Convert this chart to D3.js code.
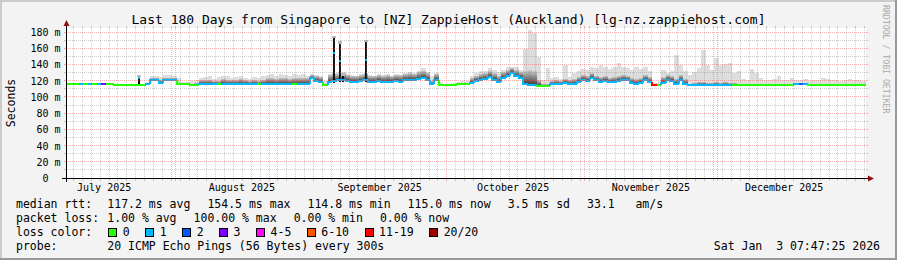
<!DOCTYPE html>
<html>
<head>
<meta charset="utf-8">
<script src="https://cdn.jsdelivr.net/npm/d3@7"></script>
<style>
  body { margin: 0; background: #f3f3f3; }
  svg { display: block; font-family: "DejaVu Sans Mono", monospace; }
  text { white-space: pre; }
</style>
</head>
<body>
<svg id="chart" width="897" height="260"></svg>
<script>
// graph window: the last 180 days up to the time stamp in the corner
const endTime = new Date(Date.UTC(2026, 0, 3, 7, 47, 25));
const startTime = new Date(endTime.getTime() - 180 * 864e5);

// one value per day, oldest first (ms)
const medianRtt = [
  116.6,116.6,116.6,116.6,116.6,116.6,116.6,116.6,116.6,116.6,
  116.6,115.3,115.3,115.3,115.3,115.3,115.3,115.3,116.6,121,
  121.5,118,122,122,121.5,116.6,116.6,116.3,115.2,115.5,
  116.8,116.8,116.8,116.8,116.5,116.8,116.8,116.8,116.8,116.8,
  116.8,116.8,116.8,116.5,116.8,116.8,116.8,116.8,116.8,116.8,
  116.8,116.5,116.8,116.8,116.8,123.5,120,119,115,119.5,
  120.5,121,122,120,119,118.5,120,121,119,118.5,
  120,119,119.5,118.5,120,119.5,121,122,121.5,123,
  124,122,116,122,115.5,115.3,115.3,115.5,116,116.2,
  116.2,118,120,121.5,123,125.6,122,119.4,124,127,
  129.7,127,124,116,115.3,115.5,114.5,114,114.5,116.5,
  117,116,117.5,116.5,117,119,122,120,124.5,121,
  119,120,118.5,119.5,120,121.5,121,117.5,117,118,
  121.5,119,115.5,115.3,118,121.5,120,116.5,121.5,117,
  115.3,115.3,115.3,115.3,115.3,115.3,115.3,115.3,115.3,115.3,
  115.3,115.3,115.3,115.3,115.3,115.3,115.3,115.3,115.3,115.3,
  115.3,115.3,115.3,115.3,116,116.2,116,115.3,115.3,115.3,
  115.3,115.3,115.3,115.3,115.3,115.3,115.3,115.3,115.3,115.0
];

// lost pings out of 20, per day
const lossCount = [
  0,0,0,1,0,1,0,1,3,0,
  0,0,0,0,0,0,0,0,1,1,
  1,1,1,1,1,0,0,0,0,0,
  1,1,1,1,0,1,1,1,1,1,
  1,1,1,0,1,1,1,1,1,1,
  1,0,1,1,1,1,1,1,0,1,
  1,1,1,1,1,1,1,1,1,1,
  1,1,1,1,1,1,1,1,1,1,
  1,1,1,1,0,0,0,0,0,0,
  0,1,1,1,1,1,1,1,1,1,
  1,1,1,1,1,1,0,0,0,1,
  1,1,1,1,1,1,1,1,1,1,
  1,1,1,1,1,1,1,1,1,1,
  1,1,12,0,1,1,1,1,1,1,
  1,1,1,1,1,1,1,1,1,1,
  0,0,0,0,0,0,0,0,0,0,
  0,0,0,0,1,2,1,0,0,0,
  0,0,0,0,0,0,0,0,0,0
];

// top of the dense smoke, per day (ms)
const smokeDense = [
  117.2,117.2,117.2,117.2,117.2,117.2,117.2,117.2,117.2,117.2,
  117.2,116,116,116,116,116,116,116,117.5,123.5,
  124,121,124.5,124.5,124,118,117.5,117.5,117,117.5,
  121,121.5,122,120.5,120,122.5,122,121,121.5,122.5,
  121,120.5,121.5,120,122,123.5,124.5,123,124.5,123.5,
  123,123.5,123.5,124.5,123.5,128,127,125,117,127.5,
  128.5,129,130,128,127,126.5,128,129,127,126.5,
  128,127,127.5,126.5,128,127.5,129,130,129.5,131,
  132,130,120,129,117,116.3,116.3,116.5,117,117.5,
  117.5,124,127,129,130,133,130,127,131,134,
  136,134,131,132,134,133,122,116,117,120,
  121,120,123,121,123,125,128,126,130,127,
  125,126,124.5,125.5,126,127.5,127,123.5,123,124,
  127.5,125,116.5,116.5,125,128,127,123,128,123,
  117,118,119,118.5,118,117.5,119,118,118.5,118,
  117.5,116.5,116.3,116.3,117,116.8,116.3,116.3,116.5,116.8,
  116.3,116.3,116.5,116.3,117.5,118,117.5,116.3,116.5,116.3,
  116.3,116.5,116.3,116.3,116.3,116.5,116.3,116.3,116.3,116.3
];

// highest ping, per day (ms)
const smokeMax = [
  118,118,118,118,118,118,118,118,118,118,
  118,116.5,116.5,116.5,116.5,116.5,116.5,116.5,118.5,127,
  127,125,127.5,127.5,127,124,119,119,120,121,
  124,125,126,123,125,127,126,124,125,126,
  124,123,125,124,126,128,129,127,129,128,
  127,129,128,129,127,129,128,127,120,129,
  130,131,131,129,128,127,129,130,128,127,
  129,128,129,127,129,128,130,131,130,133,
  136,131,127,130,119,117,117,118,119,120,
  120,126,130,132,133,136,134,131,134,137,
  138,137,134,160,183,180,150,121,136,124,
  125,123,140,125,130,133,135,134,138,136,
  140,137,135,138,142,137,136,134,138,135,
  137,133,118,119,134,130,132,152,140,133,
  128,131,136,158,140,134,148,140,141,142,
  130,132,123,122,135,130,124,122,121,123,
  126,122,121,124,122,121,123,120,122,121,
  124,123,122,121,120,122,123,121,122,120
];

// short bursts narrower than a day
const spikes = [
  { time: "2025-07-23T15:00", lo: 116, top: 125, med: 124, loss: 1 },
  { time: "2025-09-05T12:30", lo: 118, top: 173, med: 154.4, loss: 1 },
  { time: "2025-09-06T17:30", lo: 119, top: 166, med: 145, loss: 1 },
  { time: "2025-09-07T15:00", lo: 119, top: 126.5, med: 122, loss: 1 },
  { time: "2025-09-12T17:30", lo: 119, top: 168, med: 146, loss: 1 }
];

const yTicks = [0, 20, 40, 60, 80, 100, 120, 140, 160, 180];
const yTickLabels = ["0  ", "20 m", "40 m", "60 m", "80 m", "100 m", "120 m", "140 m", "160 m", "180 m"];
const monthLabels = ["July 2025", "August 2025", "September 2025", "October 2025", "November 2025", "December 2025"];

const lossLegend = ["0", "1", "2", "3", "4-5", "6-10", "11-19", "20/20"];
const lossColors = ["#26ff00", "#00b8ff", "#0059ff", "#7e00ff", "#ff00ff", "#ff5500", "#ff0000", "#a10000"];

const rttStats = ["117.2 ms avg", "154.5 ms max", "114.8 ms min", "115.0 ms now", "3.5 ms sd", "33.1   am/s"];
const lossStats = ["1.00 % avg", "100.00 % max", "0.00 % min", "0.00 % now"];

const titleText = "Last 180 Days from Singapore to [NZ] ZappieHost (Auckland) [lg-nz.zappiehost.com]";
const probeText = "20 ICMP Echo Pings (56 Bytes) every 300s";
const stampText = "Sat Jan  3 07:47:25 2026";

const W = 897, H = 260;
const svg = d3.select("#chart");

function lossIndex(n) {
  if (n <= 3) return n;
  if (n <= 5) return 4;
  if (n <= 10) return 5;
  if (n <= 19) return 6;
  return 7;
}

// background and 3d frame
svg.append("rect").attr("width", W).attr("height", H).attr("fill", "#f3f3f3");
svg.append("rect").attr("x", 0).attr("y", 0).attr("width", W).attr("height", 2).attr("fill", "#cbcbcb");
svg.append("rect").attr("x", 0).attr("y", 0).attr("width", 2).attr("height", H).attr("fill", "#cbcbcb");
svg.append("rect").attr("x", 0).attr("y", H - 2).attr("width", W).attr("height", 2).attr("fill", "#999999");
svg.append("rect").attr("x", W - 2).attr("y", 0).attr("width", 2).attr("height", H).attr("fill", "#999999");

// scales
const x = d3.scaleUtc().domain([startTime, endTime]).range([65.6, 865.6]);
const y = d3.scaleLinear().domain([0, 185]).range([178.5, 28.5]);
const X0 = 66, X1 = 866, Y0 = 178, Y1 = 28;

svg.append("rect").attr("x", X0).attr("y", Y1).attr("width", X1 - X0).attr("height", Y0 - Y1).attr("fill", "#ffffff");

const defs = svg.append("defs");
const grad = defs.append("linearGradient").attr("id", "smoke").attr("x1", 0).attr("y1", 0).attr("x2", 0).attr("y2", 1);
grad.append("stop").attr("offset", "0%").attr("stop-color", "#cacaca");
grad.append("stop").attr("offset", "100%").attr("stop-color", "#3a3a3a");

const days = d3.range(medianRtt.length).map(i => ({
  t0: d3.utcDay.offset(startTime, i),
  t1: d3.utcDay.offset(startTime, i + 1),
  med: medianRtt[i], loss: lossCount[i], dense: smokeDense[i], max: smokeMax[i],
  prev: medianRtt[Math.max(0, i - 1)]
}));

const px = t => Math.round(x(t));
const py = v => Math.round(y(v));

// smoke
const data = svg.append("g").attr("shape-rendering", "crispEdges");
data.selectAll(".light").data(days).enter().append("rect")
  .attr("x", d => px(d.t0)).attr("width", d => px(d.t1) - px(d.t0))
  .attr("y", d => Math.max(Y1, py(d.max))).attr("height", d => py(d.med) - Math.max(Y1, py(d.max)))
  .attr("fill", "#dddddd");
data.selectAll(".dense").data(days.filter(d => py(d.med) - py(d.dense) >= 1)).enter().append("rect")
  .attr("x", d => px(d.t0)).attr("width", d => px(d.t1) - px(d.t0))
  .attr("y", d => py(d.dense)).attr("height", d => py(d.med) - py(d.dense))
  .attr("fill", "url(#smoke)");

const parse = d3.utcParse("%Y-%m-%dT%H:%M");
const sp = spikes.map(s => Object.assign({}, s, { t: parse(s.time) }));
data.selectAll(".halo").data(sp).enter().append("rect")
  .attr("x", d => px(d.t) - 1).attr("width", 4)
  .attr("y", d => py(d.top + 3)).attr("height", d => py(d.top) - py(d.top + 3))
  .attr("fill", "#bbbbbb");
data.selectAll(".spike").data(sp).enter().append("rect")
  .attr("x", d => px(d.t)).attr("width", 2)
  .attr("y", d => py(d.top)).attr("height", d => py(d.lo) - py(d.top))
  .attr("fill", "#111111");

// median line coloured by loss
svg.append("g").selectAll("path").data(days).enter().append("path")
  .attr("d", (d, i) => i === 0
    ? `M${px(d.t0)},${py(d.med)}H${px(d.t1)}`
    : `M${px(d.t0)},${py(d.prev)}V${py(d.med)}H${px(d.t1)}`)
  .attr("fill", "none")
  .attr("stroke", d => lossColors[lossIndex(d.loss)])
  .attr("stroke-width", 2)
  .attr("shape-rendering", "crispEdges");
data.selectAll(".spmed").data(sp).enter().append("rect")
  .attr("x", d => px(d.t)).attr("width", 2)
  .attr("y", d => py(d.med) - 1).attr("height", 2)
  .attr("fill", d => lossColors[lossIndex(d.loss)]);

// grid on top, like rrdtool
const grid = svg.append("g").attr("shape-rendering", "crispEdges");
const minorC = "rgba(130,130,130,0.38)", majorC = "rgba(255,70,70,0.42)";
function hLine(v, c) {
  const yy = py(v) + 0.5 - 1;
  grid.append("line").attr("x1", X0 - 2).attr("x2", X0).attr("y1", yy).attr("y2", yy).attr("stroke", c);
  grid.append("line").attr("x1", X1).attr("x2", X1 + 2).attr("y1", yy).attr("y2", yy).attr("stroke", c);
  grid.append("line").attr("x1", X0).attr("x2", X1).attr("y1", yy).attr("y2", yy)
    .attr("stroke", c).attr("stroke-dasharray", "1,1");
}
function vLine(t, c) {
  const xx = px(t) + 0.5;
  grid.append("line").attr("x1", xx).attr("x2", xx).attr("y1", Y0).attr("y2", Y0 + 3).attr("stroke", c);
  grid.append("line").attr("x1", xx).attr("x2", xx).attr("y1", Y1 - 2).attr("y2", Y1).attr("stroke", c);
  grid.append("line").attr("x1", xx).attr("x2", xx).attr("y1", Y1).attr("y2", Y0)
    .attr("stroke", c).attr("stroke-dasharray", "1,1");
}
d3.range(10, 185, 20).forEach(v => hLine(v, minorC));
yTicks.filter(v => v > 0).forEach(v => hLine(v, majorC));
const months = d3.utcMonth.range(d3.utcMonth.ceil(startTime), endTime);
const monthSet = new Set(months.map(m => +m));
d3.utcDay.range(d3.utcDay.floor(startTime), endTime, 2)
  .filter(t => t > startTime && !monthSet.has(+t))
  .forEach(t => vLine(t, minorC));
months.forEach(t => vLine(t, majorC));

// axes
const axis = svg.append("g");
axis.append("line").attr("x1", 62).attr("x2", 870).attr("y1", 178.5).attr("y2", 178.5).attr("stroke", "#000");
axis.append("line").attr("x1", 66.5).attr("x2", 66.5).attr("y1", 182).attr("y2", 25).attr("stroke", "#000");
axis.append("path").attr("d", "M868,175.5L874,178.5L868,181.5Z").attr("fill", "#931010");
axis.append("path").attr("d", "M63.5,26L66.5,20L69.5,26Z").attr("fill", "#931010");

// y tick labels
svg.append("g").selectAll("text").data(yTicks).enter().append("text")
  .attr("x", 60.5).attr("y", d => y(d) + 3.5)
  .attr("text-anchor", "end").attr("font-size", 10).attr("fill", "#000")
  .text((d, i) => yTickLabels[i]);

// month labels, centred half a month in
const monthStarts = d3.utcMonth.range(new Date(Date.UTC(2025, 6, 1)), new Date(Date.UTC(2026, 0, 1)));
svg.append("g").selectAll("text").data(monthStarts).enter().append("text")
  .attr("x", d => x(d3.utcDay.offset(d, 15))).attr("y", 191)
  .attr("text-anchor", "middle").attr("font-size", 10).attr("fill", "#000")
  .text((d, i) => monthLabels[i]);

// titles
svg.append("text").attr("x", 448.5).attr("y", 24).attr("text-anchor", "middle")
  .attr("font-size", 13).attr("fill", "#000").text(titleText);
svg.append("text").attr("transform", "translate(15,103) rotate(-90)").attr("text-anchor", "middle")
  .attr("font-size", 11.5).attr("fill", "#000").text("Seconds");
svg.append("text").attr("transform", "translate(883,5) rotate(90)").attr("text-anchor", "start")
  .attr("font-size", 8.2).attr("fill", "#aaaaaa").text("RRDTOOL / TOBI OETIKER");

// legend
const leg = svg.append("g").attr("font-size", 11.5).attr("fill", "#000");
const rows = [207.8, 221.8, 235.8, 249.5];
const tab = 107.3;
function statRow(label, items, yy) {
  leg.append("text").attr("x", 16).attr("y", yy).text(label);
  let xx = tab;
  items.forEach(s => {
    const t = leg.append("text").attr("x", xx).attr("y", yy).text(s);
    xx += t.node().getComputedTextLength() + 17;
  });
}
statRow("median rtt:", rttStats, rows[0]);
statRow("packet loss:", lossStats, rows[1]);

leg.append("text").attr("x", 16).attr("y", rows[2]).text("loss color:");
let lx = tab + 1;
lossLegend.forEach((s, i) => {
  leg.append("rect").attr("x", lx + 0.5).attr("y", 228.5).attr("width", 8).attr("height", 8)
    .attr("fill", lossColors[i]).attr("stroke", "#000").attr("shape-rendering", "crispEdges");
  const t = leg.append("text").attr("x", lx + 14.5).attr("y", rows[2]).text(s);
  lx += 14.5 + t.node().getComputedTextLength() + 15.5;
});

leg.append("text").attr("x", 16).attr("y", rows[3]).text("probe:");
leg.append("text").attr("x", tab).attr("y", rows[3]).text(probeText);
leg.append("text").attr("x", 880).attr("y", rows[3]).attr("text-anchor", "end").text(stampText);
</script>
</body>
</html>
